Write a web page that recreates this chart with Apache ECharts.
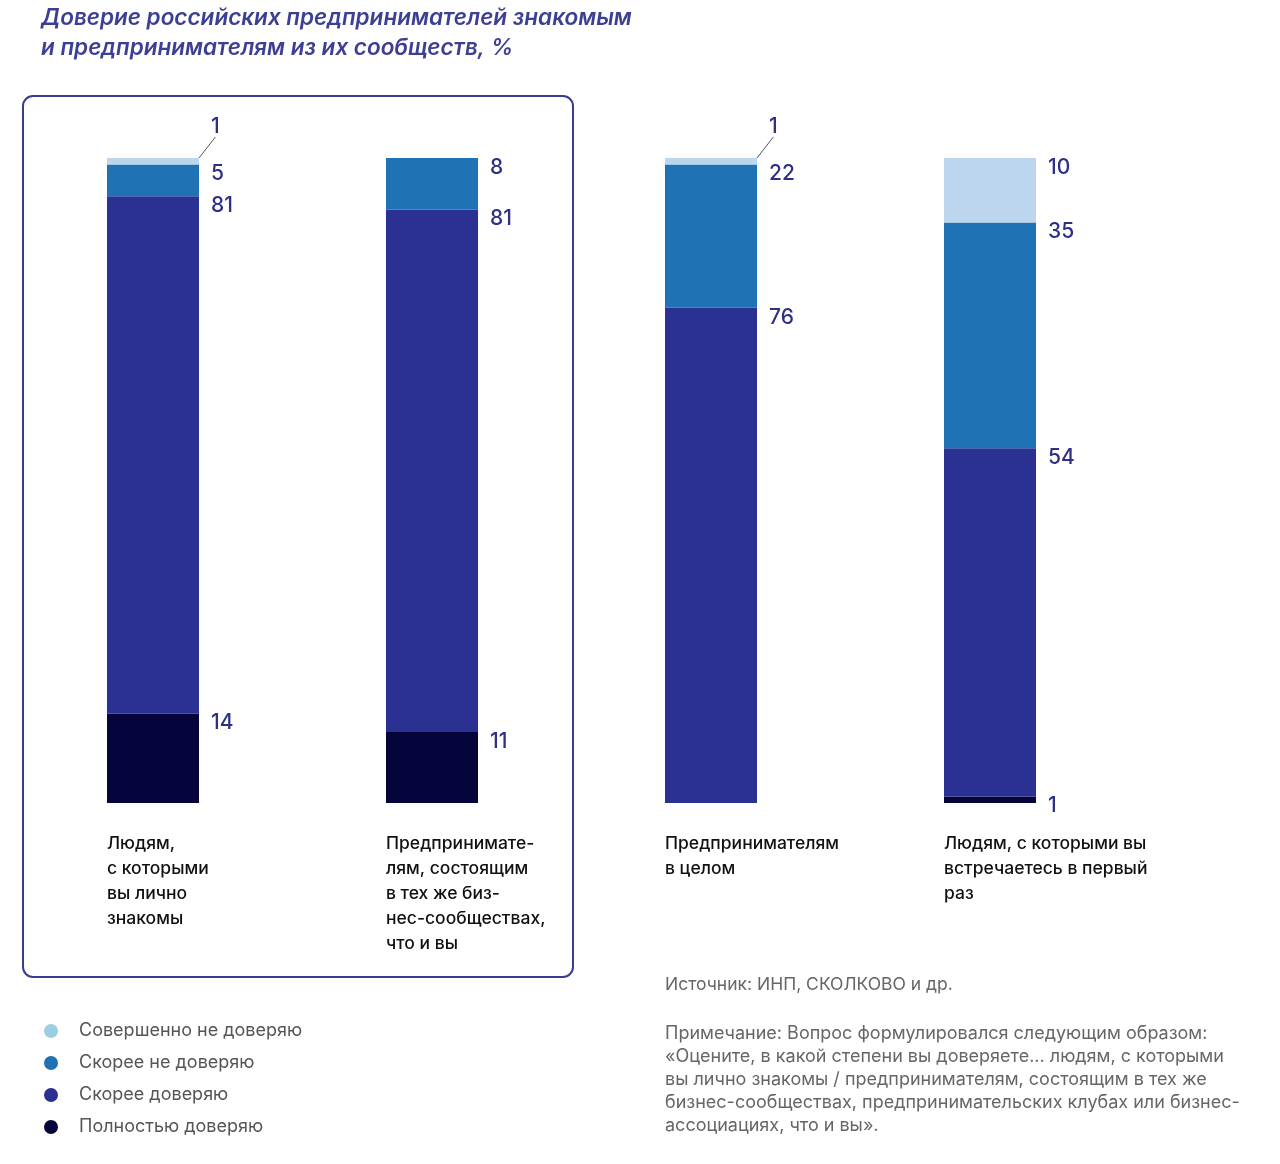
<!DOCTYPE html>
<html>
<head>
<meta charset="utf-8">
<script src="https://cdn.jsdelivr.net/npm/echarts@6/dist/echarts.min.js"></script>
<style>
  html, body { margin: 0; padding: 0; background: #fff; }
  #chart { width: 1280px; height: 1164px; }
</style>
</head>
<body>
<div id="chart"></div>
<script>
// категории (подписи под столбцами)
let categories = [
  'Людям,\nс которыми\nвы лично\nзнакомы',
  'Предпринимате-\nлям, состоящим\nв тех же биз-\nнес-сообществах,\nчто и вы',
  'Предпринимателям\nв целом',
  'Людям, с которыми вы\nвстречаетесь в первый\nраз'
];
let seriesNames = ['Совершенно не доверяю', 'Скорее не доверяю', 'Скорее доверяю', 'Полностью доверяю'];

// значения, %
let fullyTrust = [14, 11, 0, 1];
let ratherTrust = [81, 81, 76, 54];
let ratherDistrust = [5, 8, 22, 35];
let totallyDistrust = [1, 0, 1, 10];

let colors = ['#bcd6ee', '#1f73b4', '#2b3192', '#06053b'];
let legendColors = ['#9ccfe3', '#1f73b4', '#2b3192', '#06053b'];

let totals = categories.map((c, i) => fullyTrust[i] + ratherTrust[i] + ratherDistrust[i] + totallyDistrust[i]);

let labelColor = '#2e3085';
let font = 'Inter, "Noto Sans", sans-serif';

function makeData(arr, isTop) {
  return arr.map((v, i) => {
    let item = { value: v * 100 / totals[i], raw: v };
    if (v === 0) {
      item.label = { show: false };
    } else if (isTop && v <= 1) {
      // маленький верхний сегмент — подпись выше с выноской
      item.label = { offset: [12, -42] };
      item.labelLine = { show: true, lineStyle: { color: '#555', width: 1 } };
    }
    return item;
  });
}

function makeSeries(name, arr, color, isTop) {
  return {
    name: name,
    type: 'bar',
    stack: 'total',
    barWidth: 92,
    itemStyle: { color: color },
    data: makeData(arr, isTop),
    label: {
      show: true,
      position: ['100%', 0],
      offset: [12, -1],
      align: 'left',
      verticalAlign: 'top',
      color: labelColor,
      fontSize: 21,
      fontWeight: 500,
      fontFamily: font,
      formatter: function (p) { return p.data.raw; }
    },
    emphasis: { disabled: true }
  };
}

let myChart = echarts.init(document.getElementById('chart'));
myChart.setOption({
  animation: false,
  title: {
    text: 'Доверие российских предпринимателей знакомым\nи предпринимателям из их сообществ, %',
    left: 36,
    top: -2,
    textStyle: {
      color: '#3c3f93',
      fontSize: 22.5,
      fontStyle: 'italic',
      fontWeight: 600,
      fontFamily: font,
      lineHeight: 30
    }
  },
  legend: {
    orient: 'vertical',
    left: 39,
    top: 1017,
    itemGap: 14,
    itemWidth: 14,
    itemHeight: 14,
    icon: 'circle',
    selectedMode: false,
    textStyle: {
      color: '#555',
      fontSize: 18,
      fontFamily: font,
      padding: [0, 0, 0, 16]
    },
    data: seriesNames.map((n, i) => ({ name: n, itemStyle: { color: legendColors[i] } }))
  },
  grid: {
    left: 13.5,
    right: 150.5,
    top: 158,
    bottom: 361
  },
  xAxis: {
    type: 'category',
    data: categories,
    axisLine: { show: false },
    axisTick: { show: false },
    axisLabel: { show: false }
  },
  yAxis: {
    type: 'value',
    min: 0,
    max: 100,
    show: false,
    splitLine: { show: false }
  },
  series: [
    makeSeries(seriesNames[3], fullyTrust, colors[3], false),
    makeSeries(seriesNames[2], ratherTrust, colors[2], false),
    makeSeries(seriesNames[1], ratherDistrust, colors[1], false),
    makeSeries(seriesNames[0], totallyDistrust, colors[0], true)
  ]
});

// подписи категорий и рамка вокруг первых двух столбцов
let graphics = categories.map((c, i) => {
  let pt = myChart.convertToPixel({ xAxisIndex: 0, yAxisIndex: 0 }, [i, 0]);
  return {
    type: 'text',
    left: pt[0] - 46,
    top: pt[1] + 28,
    style: {
      text: c,
      fill: '#111',
      fontSize: 17.5,
      fontWeight: 500,
      fontFamily: font,
      lineHeight: 25
    }
  };
});
graphics.push({
  type: 'rect',
  shape: { x: 23, y: 96, width: 550, height: 881, r: 10 },
  style: { fill: 'none', stroke: '#3a3d8f', lineWidth: 2 },
  z: -1
});
graphics.push({
  type: 'text',
  left: 665,
  top: 976,
  style: {
    text: 'Источник: ИНП, СКОЛКОВО и др.',
    fill: '#666',
    fontSize: 17.5,
    fontFamily: font
  }
});
graphics.push({
  type: 'text',
  left: 665,
  top: 1022,
  style: {
    text: 'Примечание: Вопрос формулировался следующим образом:\n«Оцените, в какой степени вы доверяете... людям, с которыми\nвы лично знакомы / предпринимателям, состоящим в тех же\nбизнес-сообществах, предпринимательских клубах или бизнес-\nассоциациях, что и вы».',
    fill: '#666',
    fontSize: 18,
    fontFamily: font,
    lineHeight: 23
  }
});
myChart.setOption({ graphic: graphics });
</script>
</body>
</html>
